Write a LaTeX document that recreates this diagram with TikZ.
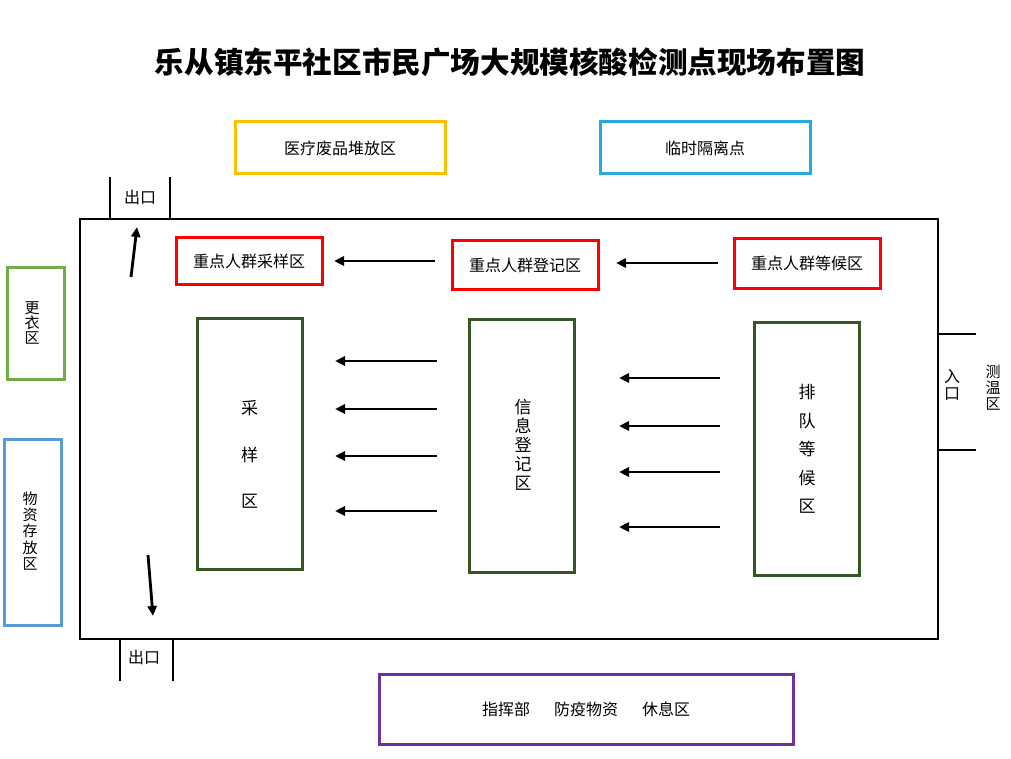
\documentclass[tikz,border=0pt]{standalone}
\usepackage{fontspec}
\setmainfont{Noto Sans CJK SC}
\usetikzlibrary{arrows.meta}
\definecolor{gold}{HTML}{FFC000}
\definecolor{skyb}{HTML}{29A8E0}
\definecolor{darkg}{HTML}{375623}
\definecolor{lightg}{HTML}{70AD47}
\definecolor{steelb}{HTML}{5B9BD5}
\definecolor{purp}{HTML}{7030A0}
\tikzset{
  box/.style={draw, line width=3pt, inner sep=0pt, font=\fontsize{16}{16}\selectfont},
  wall/.style={draw=black, line width=2pt},
  flow/.style={line width=2.8pt, -{Triangle[length=10pt,width=9pt]}},
  vtext/.style={inner sep=0pt, align=center},
  lbl/.style={inner sep=0pt, font=\fontsize{16}{16}\selectfont}
}
\begin{document}
\begin{tikzpicture}[x=1pt,y=-1pt]
\useasboundingbox (0,0) rectangle (1011,759);
% title
\node[inner sep=0pt, font=\fontsize{29.6}{30}\selectfont\bfseries] (title) at (510,62) {乐从镇东平社区市民广场大规模核酸检测点现场布置图};
% main area
\draw[wall] (80,219) rectangle (938,639);
% top exit
\draw[wall] (110,177) -- (110,219);
\draw[wall] (170,177) -- (170,219);
\node[lbl] (exit1) at (140,197) {出口};
% bottom exit
\draw[wall] (120,639) -- (120,681);
\draw[wall] (173,639) -- (173,681);
\node[lbl] (exit2) at (144,657) {出口};
% entrance
\draw[wall] (938,334) -- (976,334);
\draw[wall] (938,450) -- (976,450);
\node[vtext, font=\fontsize{16}{16.5}\selectfont] (entry) at (952,385) {入\\口};
\node[vtext, font=\fontsize{15}{16}\selectfont] (temp) at (993,388) {测\\温\\区};
% outer boxes
\node[box, draw=gold, minimum width=210pt, minimum height=52pt] (waste) at (340,148) {医疗废品堆放区};
\node[box, draw=skyb, minimum width=210pt, minimum height=52pt] (isol) at (705,148) {临时隔离点};
\node[box, draw=lightg, minimum width=57pt, minimum height=112pt] (change) at (35.5,323) {};
\node[vtext, font=\fontsize{15}{15}\selectfont] (changet) at (32,323) {更\\衣\\区};
\node[box, draw=steelb, minimum width=57pt, minimum height=186pt] (store) at (32.5,532) {};
\node[vtext, font=\fontsize{15}{16.2}\selectfont] (storet) at (30,531) {物\\资\\存\\放\\区};
\node[box, draw=purp, minimum width=414pt, minimum height=70pt] (cmd) at (586,709) {指挥部\hspace{24pt}防疫物资\hspace{24pt}休息区};
% key group boxes
\node[box, draw=red, minimum width=146pt, minimum height=46pt] (ksamp) at (249,261) {重点人群采样区};
\node[box, draw=red, minimum width=146pt, minimum height=48pt] (kreg) at (525,265) {重点人群登记区};
\node[box, draw=red, minimum width=146pt, minimum height=49pt] (kwait) at (807,263.5) {重点人群等候区};
% main zones
\node[box, draw=darkg, minimum width=105pt, minimum height=251pt] (samp) at (249.5,443.5) {};
\node[vtext, font=\fontsize{17}{46.5}\selectfont] (sampt) at (249.5,454.5) {采\\样\\区};
\node[box, draw=darkg, minimum width=105pt, minimum height=253pt] (reg) at (521.5,445.5) {};
\node[vtext, font=\fontsize{17}{19}\selectfont] (regt) at (523,445) {信\\息\\登\\记\\区};
\node[box, draw=darkg, minimum width=105pt, minimum height=253pt] (wait) at (806.5,448.5) {};
\node[vtext, font=\fontsize{17}{28.5}\selectfont] (waitt) at (807,449) {排\\队\\等\\候\\区};
% arrows
\coordinate (a1s) at (131,277); \coordinate (a1e) at (137,227);
\coordinate (a2s) at (148,555); \coordinate (a2e) at (153,616);
\draw[flow] (a1s) -- (a1e);
\draw[flow] (a2s) -- (a2e);
\coordinate (k1s) at (435,261); \coordinate (k1e) at (334,261);
\coordinate (k2s) at (718,263); \coordinate (k2e) at (616,263);
\draw[flow] (k1s) -- (k1e);
\draw[flow] (k2s) -- (k2e);
\foreach \y in {361,409,456,511}{
  \coordinate (ls) at (437,\y); \coordinate (le) at (335,\y);
  \draw[flow] (ls) -- (le);
}
\foreach \y in {378,426,472,527}{
  \coordinate (rs) at (720,\y); \coordinate (re) at (619,\y);
  \draw[flow] (rs) -- (re);
}
\end{tikzpicture}
\end{document}
